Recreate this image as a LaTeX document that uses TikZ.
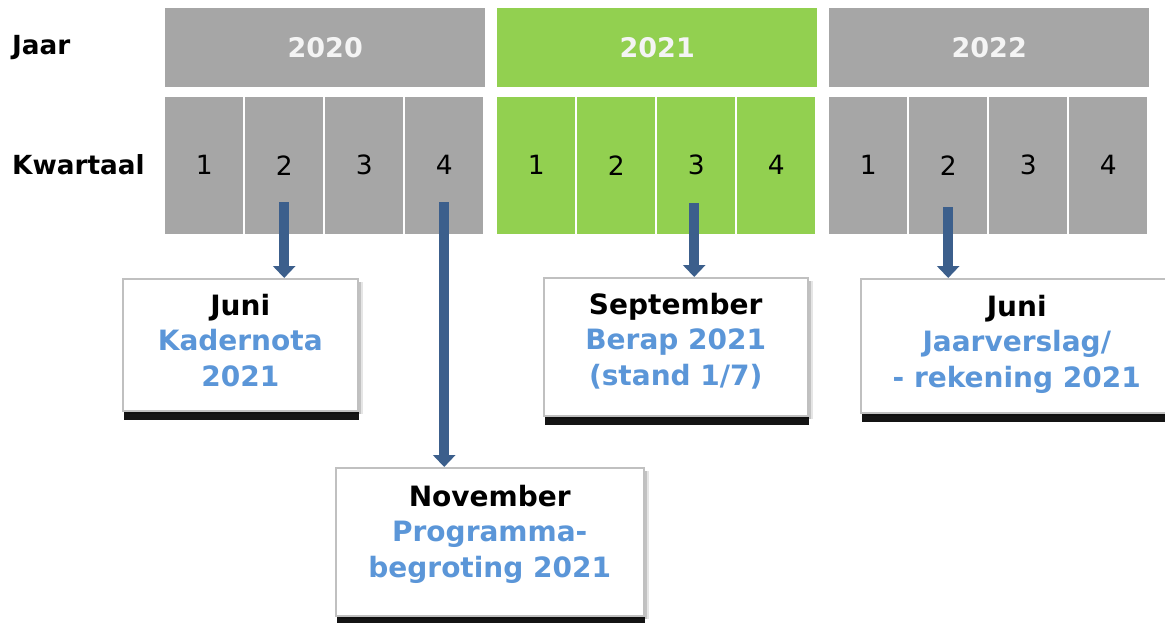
\documentclass[tikz,border=0pt]{standalone}
\usepackage{fontspec}
\setmainfont{DejaVu Sans}
\usetikzlibrary{arrows.meta,shadows,calc}
\definecolor{qgray}{HTML}{A6A6A6}
\definecolor{qgreen}{HTML}{92D050}
\definecolor{arrowblue}{HTML}{3C5F8C}
\definecolor{txtblue}{HTML}{5B96D8}
\definecolor{boxline}{HTML}{C0C0C0}
\definecolor{yeartxt}{HTML}{F4F4F4}
\begin{document}
\begin{tikzpicture}[x=1pt,y=-1pt,
  yearbar/.style={fill=#1, draw=none, minimum width=320pt, minimum height=79pt, anchor=north west, inner sep=0pt, text=yeartxt, font=\bfseries\fontsize{27}{32}\selectfont},
  qcell/.style={fill=#1, draw=none, minimum width=78pt, minimum height=137pt, anchor=north west, inner sep=0pt, font=\fontsize{26.5}{30}\selectfont},
  rowlabel/.style={anchor=west, inner sep=0pt, font=\bfseries\fontsize{26.3}{30}\selectfont},
  evbox/.style={draw=boxline, line width=1.5pt, fill=white, anchor=north west, inner sep=0pt,
     drop shadow={shadow xshift=5pt, shadow yshift=-3pt, fill=black, opacity=.1},
     drop shadow={shadow xshift=3pt, shadow yshift=-3pt, fill=black, opacity=.15},
     drop shadow={shadow xshift=1pt, shadow yshift=-9pt, fill=black, opacity=.92}},
  evtext/.style={anchor=north, align=center, inner sep=0pt, font=\bfseries\fontsize{28}{35.5}\selectfont},
  evarrow/.style={draw=arrowblue, line width=10pt, -{Triangle[width=22pt,length=12pt]}},
]
\useasboundingbox (0,0) rectangle (1165,623);
\fill[white] (0,0) rectangle (1165,623);

% row labels
\node[rowlabel] (jaar) at (12,47.5) {Jaar};
\node[rowlabel] (kwartaal) at (12,165) {Kwartaal};

% years
\node[yearbar=qgray]  (y20) at (165,8) {2020};
\node[yearbar=qgreen] (y21) at (497,8) {2021};
\node[yearbar=qgray]  (y22) at (829,8) {2022};

% quarters
\foreach \i in {1,...,4} {
  \node[qcell=qgray]  (q20-\i) at ({165+(\i-1)*80},96.5) {\i};
  \node[qcell=qgreen] (q21-\i) at ({497+(\i-1)*80},96.5) {\i};
  \node[qcell=qgray]  (q22-\i) at ({829+(\i-1)*80},96.5) {\i};
}

% event boxes
\node[evbox, minimum width=235pt, minimum height=132pt] (b1) at (122,278) {};
\node[evtext] (t1) at ($(b1.north)+(0,16)$) {Juni\\\color{txtblue}Kadernota\\\color{txtblue}2021};

\node[evbox, minimum width=308pt, minimum height=148pt] (b2) at (335,467) {};
\node[evtext] (t2) at ($(b2.north)+(0,18)$) {November\\\color{txtblue}Programma-\\\color{txtblue}begroting 2021};

\node[evbox, minimum width=264pt, minimum height=138pt] (b3) at (543,277) {};
\node[evtext] (t3) at ($(b3.north)+(0,16)$) {September\\\color{txtblue}Berap 2021\\\color{txtblue}(stand 1/7)};

\node[evbox, minimum width=312pt, minimum height=134pt] (b4) at (860,278) {};
\node[evtext] (t4) at ($(b4.north)+(0,17)$) {Juni\\\color{txtblue}Jaarverslag/\\\color{txtblue}- rekening 2021};

% arrows
\coordinate (s1) at ($(q20-2.center)+(0,37)$);
\coordinate (s2) at ($(q20-4.center)+(0,37)$);
\coordinate (s3) at ($(q21-3.center)+(-2,38)$);
\coordinate (s4) at ($(q22-2.center)+(0,42)$);
\draw[evarrow] (s1) -- (s1 |- b1.north);
\draw[evarrow] (s2) -- (s2 |- b2.north);
\draw[evarrow] (s3) -- (s3 |- b3.north);
\draw[evarrow] (s4) -- (s4 |- b4.north);
\end{tikzpicture}
\end{document}
